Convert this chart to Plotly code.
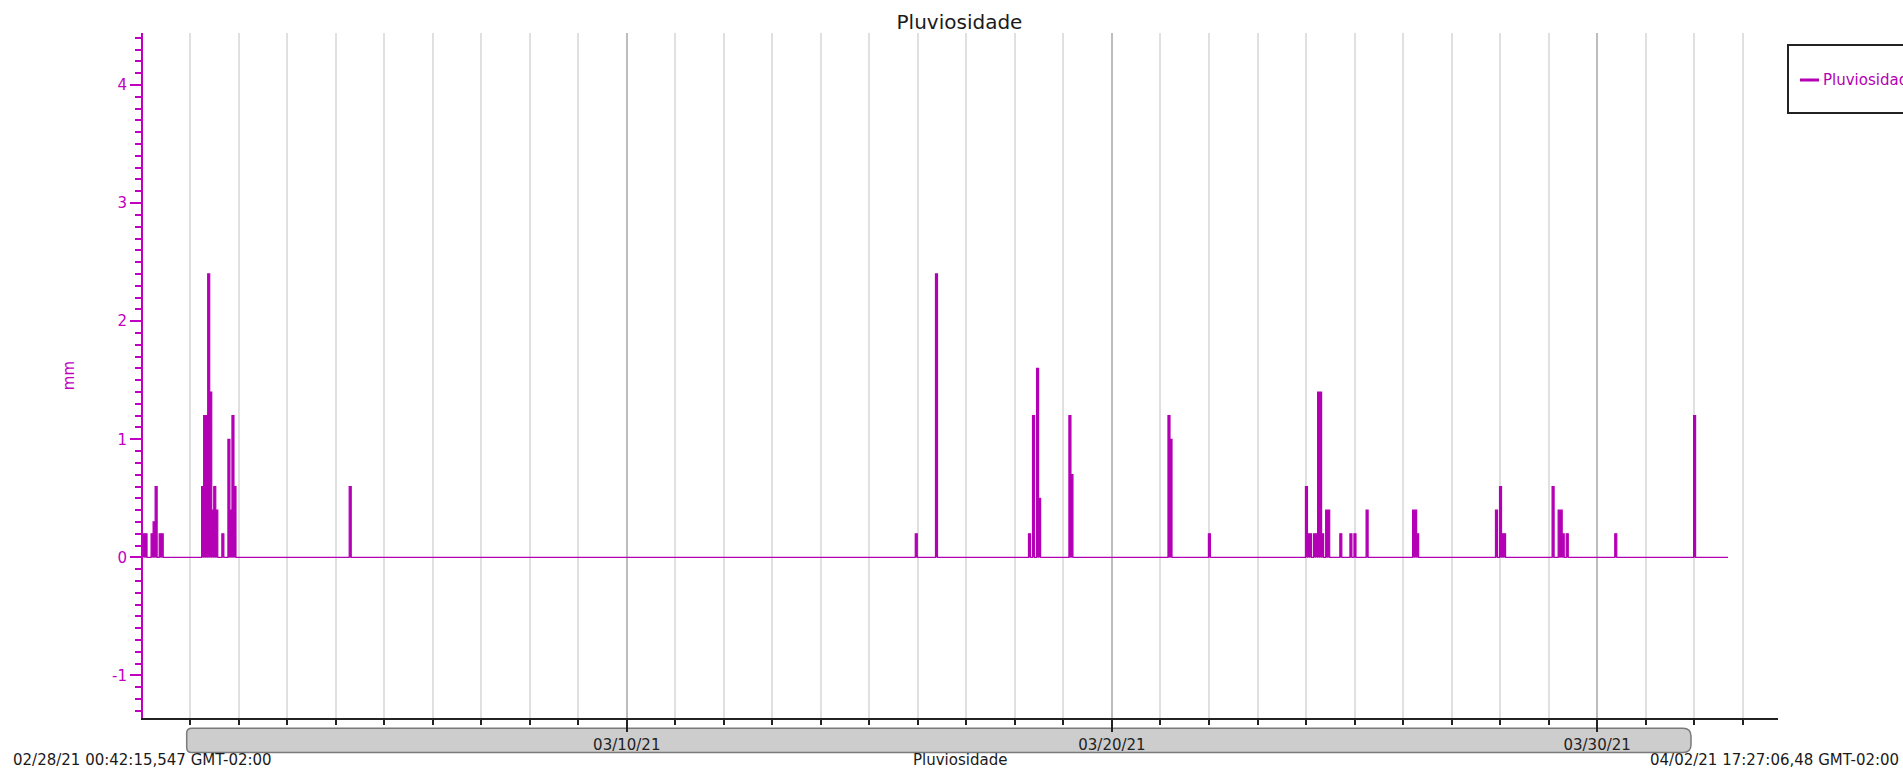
import pandas as pd
import plotly.graph_objects as go

# ---------------- data ----------------
rain_times = [
    "2021-02-28 00:42", "2021-02-28 01:42", "2021-02-28 04:42", "2021-02-28 05:42",
    "2021-02-28 06:42", "2021-02-28 08:42", "2021-02-28 09:42",
    "2021-03-01 05:42", "2021-03-01 06:42", "2021-03-01 07:42", "2021-03-01 08:42",
    "2021-03-01 09:42", "2021-03-01 10:42", "2021-03-01 11:42", "2021-03-01 12:42",
    "2021-03-01 15:42", "2021-03-01 18:42", "2021-03-01 19:42", "2021-03-01 20:42",
    "2021-03-01 21:42",
    "2021-03-04 06:42",
    "2021-03-15 22:42", "2021-03-16 08:42",
    "2021-03-18 06:42", "2021-03-18 08:42", "2021-03-18 10:42", "2021-03-18 11:42",
    "2021-03-19 02:42", "2021-03-19 03:42",
    "2021-03-21 03:42", "2021-03-21 04:42", "2021-03-21 23:42",
    "2021-03-23 23:42", "2021-03-24 00:42", "2021-03-24 01:42", "2021-03-24 03:42",
    "2021-03-24 04:42", "2021-03-24 05:42", "2021-03-24 06:42", "2021-03-24 07:42",
    "2021-03-24 09:42", "2021-03-24 10:42", "2021-03-24 16:42", "2021-03-24 21:42",
    "2021-03-24 23:42",
    "2021-03-25 05:42",
    "2021-03-26 04:42", "2021-03-26 05:42", "2021-03-26 06:42",
    "2021-03-27 21:42", "2021-03-27 23:42", "2021-03-28 00:42", "2021-03-28 01:42",
    "2021-03-29 01:42", "2021-03-29 04:42", "2021-03-29 05:42", "2021-03-29 06:42",
    "2021-03-29 08:42",
    "2021-03-30 08:42",
    "2021-03-31 23:42",
]
rain_mm = [
    0.2, 0.2, 0.2, 0.3,
    0.6, 0.2, 0.2,
    0.6, 1.2, 1.2, 2.4,
    1.4, 0.4, 0.6, 0.4,
    0.2, 1.0, 0.4, 1.2,
    0.6,
    0.6,
    0.2, 2.4,
    0.2, 1.2, 1.6, 0.5,
    1.2, 0.7,
    1.2, 1.0, 0.2,
    0.6, 0.2, 0.2, 0.2,
    0.2, 1.4, 1.4, 0.2,
    0.4, 0.4, 0.2, 0.2,
    0.2,
    0.4,
    0.4, 0.4, 0.2,
    0.4, 0.6, 0.2, 0.2,
    0.6, 0.4, 0.4, 0.2,
    0.2,
    0.2,
    1.2,
]
last_sample = "2021-04-01 16:42"
range_start = "2021-02-28 00:42:15.547"
range_end = "2021-04-02 17:27:06.480"
label_dates = ["2021-03-10", "2021-03-20", "2021-03-30"]
y_tick_vals = [-1, 0, 1, 2, 3, 4]
y_tick_text = ["-1", "0", "1", "2", "3", "4"]
start_text = "02/28/21 00:42:15,547 GMT-02:00"
end_text = "04/02/21 17:27:06,48 GMT-02:00"
series_name = "Pluviosidade"
y_title = "mm"

MAG = "#b400b4"
AXMAG = "#c000c0"

# ---------------- build step series (1-hour samples) ----------------
step = pd.Timedelta(hours=1)
xs, ys = [], []
for t, v in zip(rain_times, rain_mm):
    T = pd.Timestamp(t)
    xs += [T, T + step]
    ys += [v, 0]
xs.append(pd.Timestamp(last_sample))
ys.append(0)

fig = go.Figure()
fig.add_trace(go.Scatter(
    x=xs, y=ys, mode="lines", name=series_name,
    line=dict(color=MAG, width=1.2, shape="hv"),
    fill="tozeroy", fillcolor=MAG, showlegend=False,
))

# ---------------- layout ----------------
L, R, T_, B = 143, 125, 33, 52
W, H = 1903, 770
pw, ph = W - L - R, H - T_ - B


def px(x):
    return (x - L) / pw


def py(y):
    return (H - B - y) / ph


fig.update_layout(
    width=W, height=H,
    margin=dict(l=L, r=R, t=T_, b=B, autoexpand=False),
    paper_bgcolor="white", plot_bgcolor="white",
    font=dict(family="DejaVu Sans", size=15, color="#1a1a1a"),
    showlegend=False,
    title=dict(text=series_name, x=959.5 / W, xanchor="center",
               y=1 - 22 / H, yanchor="middle", yref="container",
               font=dict(size=20, color="#1a1a1a")),
    xaxis=dict(
        type="date", range=[range_start, range_end],
        tickmode="array", tickvals=label_dates, tickformat="%m/%d/%y",
        ticks="outside", ticklen=12, tickwidth=1.5, tickcolor="#222",
        tickfont=dict(size=15, color="#222"),
        showgrid=True, gridcolor="#bdbdbd", gridwidth=1.5,
        showline=True, linecolor="#222", linewidth=2, zeroline=False,
        minor=dict(tickmode="linear", tick0="2021-03-01", dtick=86400000,
                   ticks="outside", ticklen=5, tickwidth=1.5, tickcolor="#222",
                   showgrid=True, gridcolor="#e0e0e0", gridwidth=1.5),
    ),
    yaxis=dict(
        range=[-1.36, 4.44], tickmode="array", tickvals=y_tick_vals,
        ticktext=y_tick_text,
        ticks="outside", ticklen=11, tickwidth=1.5, tickcolor=AXMAG,
        tickfont=dict(size=15, color=AXMAG),
        showgrid=False, zeroline=False,
        showline=True, linecolor=AXMAG, linewidth=2,
        minor=dict(tickmode="linear", tick0=0, dtick=0.1, ticks="outside",
                   ticklen=6, tickwidth=1.5, tickcolor=AXMAG, showgrid=False),
        title=dict(text=y_title, font=dict(size=15, color=AXMAG), standoff=34),
    ),
)

# scrollbar (rounded bar below the axis)
x0, x1 = px(186.7), px(1691)
yt, yb = py(728.3), py(752.5)
rl, rr = 5, 8
rlx, rly = rl / pw, rl / ph
rrx, rry = rr / pw, rr / ph
path = (f"M {x0 + rlx},{yt} L {x1 - rrx},{yt} Q {x1},{yt} {x1},{yt - rry} "
        f"L {x1},{yb + rry} Q {x1},{yb} {x1 - rrx},{yb} "
        f"L {x0 + rlx},{yb} Q {x0},{yb} {x0},{yb + rly} "
        f"L {x0},{yt - rly} Q {x0},{yt} {x0 + rlx},{yt} Z")
fig.add_shape(type="path", path=path, xref="paper", yref="paper",
              fillcolor="#cdcdcd", line=dict(color="#7a7a7a", width=1.5),
              layer="below")

# legend box (drawn manually, partially cut by the right edge as in the reference)
fig.add_shape(type="rect", xref="paper", yref="paper",
              x0=px(1788), x1=px(1960), y0=py(113), y1=py(45),
              line=dict(color="#222", width=2), fillcolor="white")
fig.add_shape(type="line", xref="paper", yref="paper",
              x0=px(1800), x1=px(1819), y0=py(80), y1=py(80),
              line=dict(color=MAG, width=3))
fig.add_annotation(text=series_name, xref="paper", yref="paper",
                   x=px(1821), y=py(80), xanchor="left", yanchor="middle",
                   showarrow=False, font=dict(size=15, color=MAG))

# bottom texts
fig.add_annotation(text=start_text, xref="paper", yref="paper",
                   x=px(11), y=py(760), xanchor="left", yanchor="middle",
                   showarrow=False, font=dict(size=15, color="#1a1a1a"))
fig.add_annotation(text=end_text, xref="paper", yref="paper",
                   x=px(1901), y=py(760), xanchor="right", yanchor="middle",
                   showarrow=False, font=dict(size=15, color="#1a1a1a"))
fig.add_annotation(text=series_name, xref="paper", yref="paper",
                   x=px(960), y=py(760), xanchor="center", yanchor="middle",
                   showarrow=False, font=dict(size=15, color="#1a1a1a"))

fig.write_html("out.html", config={"displayModeBar": False},
               post_script="document.body.style.margin='0';")
